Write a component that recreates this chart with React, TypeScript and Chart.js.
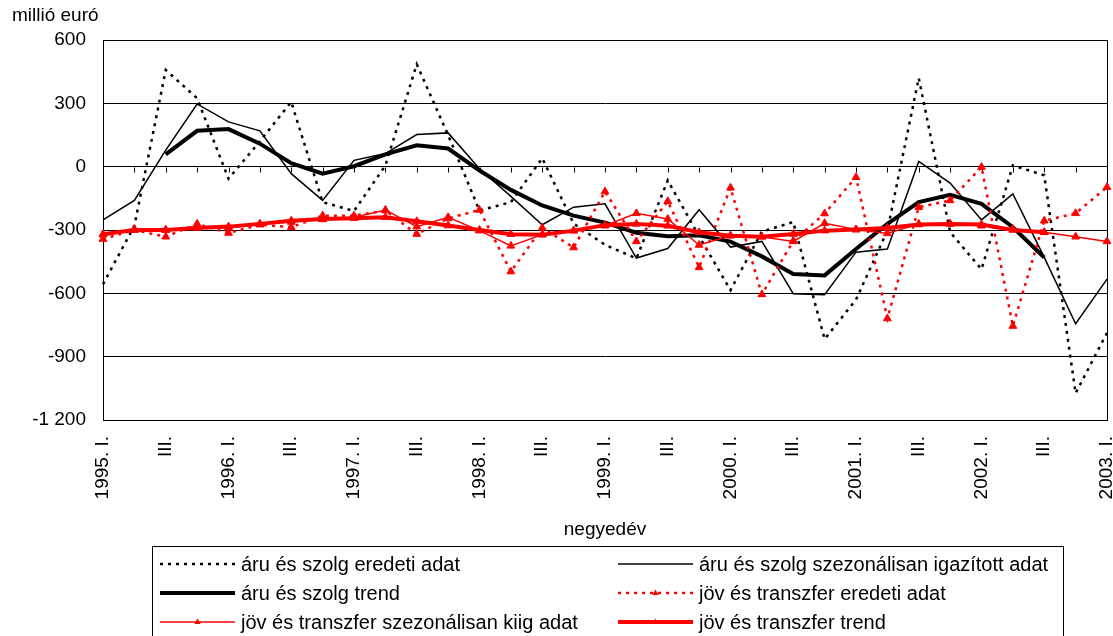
import React, { useEffect, useRef } from 'react';
import { Chart, registerables } from 'chart.js';

Chart.register(...registerables);

const FONT = '"Liberation Sans", Arial, sans-serif';

const categories = [
  '1995. I.', 'II.', 'III.', 'IV.',
  '1996. I.', 'II.', 'III.', 'IV.',
  '1997. I.', 'II.', 'III.', 'IV.',
  '1998. I.', 'II.', 'III.', 'IV.',
  '1999. I.', 'II.', 'III.', 'IV.',
  '2000. I.', 'II.', 'III.', 'IV.',
  '2001. I.', 'II.', 'III.', 'IV.',
  '2002. I.', 'II.', 'III.', 'IV.',
  '2003. I.',
];

const yTicks = [-1200, -900, -600, -300, 0, 300, 600];

const aruEredeti = [-557, -280, 458, 324, -57, 120, 307, -168, -210, 5, 485, 150, -208, -168, 40, -270, -370, -435, -65, -330, -585, -308, -262, -817, -630, -303, 420, -310, -486, 6, -41, -1073, -787];
const aruSzezonalis = [-252, -160, 78, 297, 212, 170, -33, -160, 30, 62, 152, 160, -10, -141, -275, -192, -176, -433, -388, -204, -381, -354, -602, -607, -405, -390, 25, -78, -252, -129, -430, -744, -533];
const aruTrend = [null, null, 58, 170, 178, 109, 17, -33, 2, 58, 101, 86, -18, -110, -184, -232, -265, -313, -330, -325, -355, -425, -508, -515, -390, -271, -168, -133, -176, -287, -430, null, null];
const jovEredeti = [-343, -300, -332, -271, -314, -275, -287, -232, -232, -208, -319, -245, -205, -497, -290, -383, -118, -354, -164, -477, -100, -605, -352, -222, -50, -719, -192, -160, -2, -755, -256, -221, -97];
const jovSzezonalis = [-322, -295, -300, -283, -290, -272, -262, -250, -240, -205, -284, -240, -303, -375, -322, -303, -280, -221, -248, -371, -327, -332, -354, -268, -298, -316, -271, -271, -280, -295, -311, -332, -354];
const jovTrend = [-320, -300, -300, -290, -284, -271, -256, -248, -244, -240, -259, -279, -300, -320, -322, -303, -277, -271, -280, -311, -327, -332, -319, -303, -298, -290, -274, -271, -274, -300, -311, null, null];

const seriesLabels = [
  'áru és szolg eredeti adat',
  'áru és szolg szezonálisan igazított adat',
  'áru és szolg trend',
  'jöv és transzfer eredeti adat',
  'jöv és transzfer szezonálisan kiig adat',
  'jöv és transzfer trend',
];

const formatTick = (v: number) => {
  const s = Math.abs(v).toString();
  const withSpace = s.length > 3 ? s.slice(0, s.length - 3) + ' ' + s.slice(s.length - 3) : s;
  return (v < 0 ? '-' : '') + withSpace;
};

const decorPlugin = {
  id: 'decor',
  beforeDatasetsDraw(chart: any) {
    const { ctx, chartArea, scales } = chart;
    const xs = scales.x;
    const ys = scales.y;
    const y0 = Math.round(ys.getPixelForValue(0)) + 0.5;
    ctx.save();
    ctx.strokeStyle = '#000';
    ctx.lineWidth = 1;
    ctx.beginPath();
    for (let i = 0; i < categories.length; i++) {
      const px = Math.round(xs.getPixelForValue(i)) + 0.5;
      ctx.moveTo(px, y0);
      ctx.lineTo(px, y0 + 5);
    }
    ctx.stroke();
    ctx.strokeRect(
      Math.round(chartArea.left) + 0.5,
      Math.round(chartArea.top) + 0.5,
      Math.round(chartArea.right) - Math.round(chartArea.left),
      Math.round(chartArea.bottom) - Math.round(chartArea.top)
    );
    ctx.restore();
  },
  afterDraw(chart: any) {
    const { ctx, chartArea } = chart;
    ctx.save();
    ctx.fillStyle = '#000';
    ctx.font = `19px ${FONT}`;
    ctx.textBaseline = 'middle';
    ctx.textAlign = 'left';
    ctx.fillText('millió euró', 12, 16);
    ctx.textAlign = 'center';
    ctx.fillText('negyedév', (chartArea.left + chartArea.right) / 2, 530);

    // legend box
    const boxL = 152.5, boxR = 1063.5, boxT = 546.5;
    ctx.strokeStyle = '#000';
    ctx.lineWidth = 1;
    ctx.strokeRect(boxL, boxT, boxR - boxL, 120);

    const colX = [160, 618];
    const rowY = [564, 593, 622];
    const lineLen = 75;
    ctx.font = `20px ${FONT}`;
    ctx.textAlign = 'left';
    chart.data.datasets.forEach((ds: any, i: number) => {
      const x0 = colX[i % 2];
      const y = rowY[Math.floor(i / 2)];
      ctx.save();
      ctx.strokeStyle = ds.borderColor;
      ctx.lineWidth = ds.borderWidth;
      ctx.setLineDash(ds.borderDash || []);
      ctx.beginPath();
      ctx.moveTo(x0, y);
      ctx.lineTo(x0 + lineLen, y);
      ctx.stroke();
      ctx.restore();
      if (ds.pointRadius > 0) {
        const cx = x0 + lineLen / 2;
        const r = 3.5;
        ctx.beginPath();
        ctx.fillStyle = ds.pointBackgroundColor;
        ctx.moveTo(cx, y - r);
        ctx.lineTo(cx + r * 0.9, y + r * 0.6);
        ctx.lineTo(cx - r * 0.9, y + r * 0.6);
        ctx.closePath();
        ctx.fill();
      }
      ctx.fillStyle = '#000';
      ctx.fillText(ds.label, x0 + lineLen + 6, y + 1);
    });
    ctx.restore();
  },
};

export default function App() {
  const canvasRef = useRef<HTMLCanvasElement | null>(null);

  useEffect(() => {
    if (!canvasRef.current) return;
    const red = '#FF0000';
    const chart = new Chart(canvasRef.current, {
      type: 'line',
      data: {
        labels: categories,
        datasets: [
          {
            label: seriesLabels[0],
            data: aruEredeti,
            borderColor: '#000',
            borderWidth: 2.5,
            borderDash: [3, 5],
            pointRadius: 0,
            tension: 0,
            order: 6,
          },
          {
            label: seriesLabels[1],
            data: aruSzezonalis,
            borderColor: '#000',
            borderWidth: 1.5,
            pointRadius: 0,
            tension: 0,
            order: 5,
          },
          {
            label: seriesLabels[2],
            data: aruTrend,
            borderColor: '#000',
            borderWidth: 4,
            pointRadius: 0,
            tension: 0,
            order: 4,
          },
          {
            label: seriesLabels[3],
            data: jovEredeti,
            borderColor: red,
            borderWidth: 2.5,
            borderDash: [3, 5],
            pointStyle: 'triangle',
            pointRadius: 4.5,
            pointBackgroundColor: red,
            pointBorderColor: red,
            pointBorderWidth: 1,
            tension: 0,
            order: 3,
          },
          {
            label: seriesLabels[4],
            data: jovSzezonalis,
            borderColor: red,
            borderWidth: 1.5,
            pointStyle: 'triangle',
            pointRadius: 4.5,
            pointBackgroundColor: red,
            pointBorderColor: red,
            pointBorderWidth: 1,
            tension: 0,
            order: 2,
          },
          {
            label: seriesLabels[5],
            data: jovTrend,
            borderColor: red,
            borderWidth: 4,
            pointStyle: 'triangle',
            pointRadius: 4.5,
            pointBackgroundColor: red,
            pointBorderColor: red,
            pointBorderWidth: 1,
            tension: 0,
            order: 1,
          },
        ],
      },
      options: {
        responsive: false,
        animation: false,
        devicePixelRatio: 1,
        spanGaps: false,
        layout: { padding: { top: 40, right: 6, bottom: 0, left: 0 } },
        plugins: {
          legend: { display: false },
          tooltip: { enabled: false },
          title: { display: false },
        },
        scales: {
          x: {
            type: 'category',
            offset: false,
            grid: { display: false, drawTicks: false },
            border: { display: true, color: '#000', width: 1 },
            ticks: {
              autoSkip: false,
              minRotation: 90,
              maxRotation: 90,
              padding: 16,
              color: '#000',
              font: { family: FONT, size: 19 },
              callback: (_v: any, index: number) => (index % 2 === 0 ? categories[index] : ''),
            },
            afterFit: (scale: any) => {
              scale.height = 216;
              scale.paddingLeft = 0;
              scale.paddingRight = 0;
            },
          },
          y: {
            min: yTicks[0],
            max: yTicks[yTicks.length - 1],
            grid: { color: '#000', lineWidth: 1, drawTicks: false },
            border: { display: true, color: '#000', width: 1 },
            afterBuildTicks: (scale: any) => {
              scale.ticks = yTicks.map((v) => ({ value: v }));
            },
            ticks: {
              padding: 17,
              color: '#000',
              font: { family: FONT, size: 19 },
              callback: (v: any) => formatTick(Number(v)),
            },
            afterFit: (scale: any) => {
              scale.width = 103;
            },
          },
        },
      },
      plugins: [decorPlugin],
    });
    return () => chart.destroy();
  }, []);

  return (
    <div style={{ position: 'fixed', left: 0, top: 0, width: 1113, height: 636, background: '#fff' }}>
      <canvas ref={canvasRef} width={1113} height={636} style={{ display: 'block' }} />
    </div>
  );
}
